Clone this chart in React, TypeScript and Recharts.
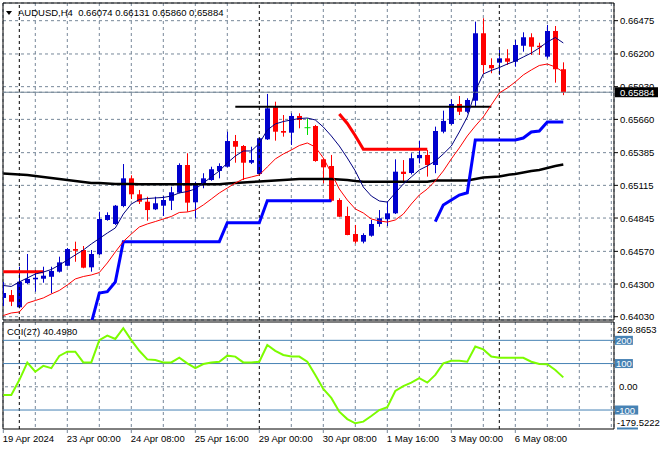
import {
  Bar,
  CartesianGrid,
  ComposedChart,
  Line,
  ReferenceArea,
  ReferenceLine,
  XAxis,
  YAxis,
} from "recharts";

// AUDUSD H4 candles, one entry per bar, oldest first
const symbol = "AUDUSD,H4";
const opens = [
  0.64185, 0.64209, 0.64108, 0.64308, 0.64339, 0.64344, 0.6436, 0.64402, 0.64451, 0.64589,
  0.64581, 0.64438, 0.64546, 0.64829, 0.64796, 0.64944, 0.65173, 0.65041, 0.6498, 0.64917,
  0.64947, 0.64988, 0.65054, 0.65283, 0.64975, 0.6512, 0.65159, 0.65234, 0.65269, 0.65481,
  0.6544, 0.65302, 0.65209, 0.65495, 0.6576, 0.65564, 0.6555, 0.65688, 0.65591, 0.65605,
  0.6533, 0.65275, 0.64994, 0.64862, 0.64713, 0.6465, 0.64699, 0.64796, 0.64835, 0.64884,
  0.65228, 0.65217, 0.65339, 0.65366, 0.65283, 0.65558, 0.65622, 0.65787, 0.65723, 0.65814,
  0.66371, 0.66109, 0.66128, 0.66164, 0.66136, 0.66268, 0.66338, 0.66268, 0.66178, 0.6639,
  0.66074,
];
const highs = [
  0.64317, 0.64251, 0.64443, 0.64548, 0.64416, 0.64443, 0.64443, 0.64526, 0.64598, 0.6465,
  0.64614, 0.64581, 0.64897, 0.64892, 0.64953, 0.65291, 0.65198, 0.65077, 0.65021, 0.65021,
  0.65027, 0.65104, 0.65297, 0.6538, 0.65145, 0.65215, 0.65269, 0.65297, 0.65558, 0.65531,
  0.65448, 0.65434, 0.65506, 0.6587, 0.65806, 0.65696, 0.6571, 0.6571, 0.65669, 0.65614,
  0.65339, 0.65366, 0.65008, 0.64939, 0.64788, 0.64719, 0.64829, 0.64911, 0.6498, 0.6533,
  0.65324, 0.6538, 0.65484, 0.65407, 0.656, 0.65732, 0.65826, 0.65853, 0.65834, 0.66467,
  0.66495, 0.66164, 0.66233, 0.66239, 0.66316, 0.66379, 0.66371, 0.66293, 0.6644, 0.66431,
  0.66131,
];
const lows = [
  0.64118, 0.64118, 0.64099, 0.643, 0.64237, 0.64311, 0.64223, 0.64395, 0.64446, 0.64484,
  0.6443, 0.64402, 0.6454, 0.64823, 0.64788, 0.64934, 0.65002, 0.64961, 0.64823, 0.64911,
  0.64862, 0.64911, 0.65049, 0.64897, 0.64843, 0.65091, 0.65153, 0.65173, 0.65264, 0.65302,
  0.65159, 0.65291, 0.65201, 0.6549, 0.65484, 0.65517, 0.65448, 0.65586, 0.65531, 0.6531,
  0.65132, 0.6498, 0.64854, 0.64703, 0.64636, 0.64636, 0.64691, 0.64773, 0.64779, 0.64878,
  0.65151, 0.65205, 0.65297, 0.65187, 0.65215, 0.65545, 0.65614, 0.65696, 0.6571, 0.6577,
  0.66035, 0.66041, 0.66027, 0.66109, 0.66095, 0.66219, 0.66192, 0.66192, 0.66164, 0.65963,
  0.6586,
];
const closes = [
  0.64226, 0.64154, 0.64319, 0.64342, 0.64352, 0.64369, 0.64408, 0.64479, 0.64589, 0.64575,
  0.64435, 0.64548, 0.64837, 0.6487, 0.64947, 0.65173, 0.65041, 0.6498, 0.64911, 0.64967,
  0.64994, 0.65058, 0.65283, 0.64972, 0.65126, 0.65173, 0.65248, 0.65275, 0.65481, 0.65434,
  0.65302, 0.65324, 0.65504, 0.65751, 0.65558, 0.6555, 0.65688, 0.65655, 0.65591, 0.65316,
  0.65264, 0.64988, 0.64856, 0.64705, 0.6465, 0.64705, 0.64796, 0.64843, 0.64884, 0.65228,
  0.65209, 0.65339, 0.65366, 0.65283, 0.65564, 0.65647, 0.65787, 0.65723, 0.6582, 0.66371,
  0.66109, 0.66082, 0.66164, 0.66136, 0.66274, 0.66338, 0.6626, 0.66255, 0.6639, 0.66074,
  0.65884,
];

// overlay indicators
const fastMa = [
  0.64288, 0.6428, 0.64317, 0.6435, 0.64383, 0.64399, 0.6442, 0.64457, 0.64498, 0.6454,
  0.64581, 0.64631, 0.64676, 0.64721, 0.64763, 0.64878, 0.64961, 0.64998, 0.65006, 0.65011,
  0.65015, 0.65027, 0.65052, 0.65064, 0.65085, 0.65134, 0.65184, 0.65234, 0.653, 0.65357,
  0.65399, 0.65399, 0.65461, 0.65572, 0.65622, 0.65642, 0.65655, 0.65667, 0.65671, 0.65655,
  0.65597, 0.65523, 0.6544, 0.65341, 0.65234, 0.65101, 0.65027, 0.64986, 0.64977, 0.65052,
  0.65126, 0.65184, 0.65242, 0.65275, 0.65316, 0.65374, 0.6544, 0.65556, 0.6568, 0.65894,
  0.66035, 0.66064, 0.66088, 0.66117, 0.66142, 0.66175, 0.66208, 0.6625, 0.66299, 0.66336,
  0.66291,
];
const slowMa = [
  0.6404, 0.64061, 0.64069, 0.64143, 0.64164, 0.64185, 0.64218, 0.64247, 0.64292, 0.64342,
  0.64362, 0.64375, 0.64395, 0.64474, 0.64565, 0.64651, 0.64713, 0.64771, 0.64796, 0.64816,
  0.64837, 0.64858, 0.64891, 0.64895, 0.64911, 0.64953, 0.65002, 0.65052, 0.65093, 0.65134,
  0.65168, 0.65184, 0.65201, 0.65267, 0.65333, 0.65374, 0.65407, 0.65444, 0.65465, 0.65432,
  0.65341, 0.65217, 0.65085, 0.64994, 0.6492, 0.64887, 0.64837, 0.64821, 0.64812, 0.64829,
  0.64878, 0.64961, 0.65035, 0.65085, 0.65151, 0.65234, 0.65333, 0.65424, 0.65523, 0.65605,
  0.6568, 0.65779, 0.65878, 0.65919, 0.65969, 0.66027, 0.66068, 0.66105, 0.66117, 0.66093,
  0.66051,
];
const longMa = [
  0.65213, 0.65209, 0.65205, 0.65201, 0.65192, 0.65184, 0.65176, 0.65168, 0.65159, 0.65151,
  0.65143, 0.65134, 0.65134, 0.6513, 0.65126, 0.65126, 0.65126, 0.65124, 0.65124, 0.65124,
  0.65124, 0.65124, 0.65124, 0.65124, 0.65124, 0.65124, 0.65124, 0.65124, 0.6513, 0.65134,
  0.65139, 0.65143, 0.65147, 0.65151, 0.65155, 0.65159, 0.65163, 0.65168, 0.65168, 0.65168,
  0.65168, 0.65168, 0.65163, 0.65159, 0.65151, 0.65145, 0.65145, 0.65145, 0.65145, 0.65145,
  0.65145, 0.65145, 0.65145, 0.65145, 0.65155, 0.65155, 0.65155, 0.65155, 0.65155, 0.65168,
  0.6518, 0.65184, 0.65188, 0.65201, 0.65209, 0.65221, 0.65234, 0.65242, 0.65258, 0.65275,
  0.65287,
];
// trailing stop: blue under price, red over price, gaps where the other side is active
const stopUp = [
  null, null, null, null, null, null, null, null, null, null,
  null, 0.63978, 0.64226, 0.64237, 0.64317, 0.6465, 0.6465, 0.6465, 0.6465, 0.6465,
  0.6465, 0.6465, 0.6465, 0.6465, 0.6465, 0.6465, 0.6465, 0.6465, 0.64807, 0.64807,
  0.64807, 0.64807, 0.64807, 0.64988, 0.64988, 0.64988, 0.64988, 0.64988, 0.64988, 0.64988,
  0.64988, 0.64988, null, null, null, null, null, null, null, null,
  null, null, null, null, 0.64815, 0.64953, 0.64994, 0.65035, 0.65054, 0.6549,
  0.6549, 0.6549, 0.6549, 0.6549, 0.6549, 0.65506, 0.65556, 0.65564, 0.65638, 0.65638,
  0.65638,
];
const stopDown = [
  0.64402, 0.64402, 0.64402, 0.64402, 0.64402, 0.64402, null, null, null, null,
  null, null, null, null, null, null, null, null, null, null,
  null, null, null, null, null, null, null, null, null, null,
  null, null, null, null, null, null, null, null, null, null,
  null, null, 0.65704, 0.65626, 0.65525, 0.65413, 0.65413, 0.65413, 0.65413, 0.65413,
  0.65413, 0.65413, 0.65413, 0.65413, null, null, null, null, null, null,
  null, null, null, null, null, null, null, null, null, null,
  null,
];
const resistanceLevel = 0.65765;
const resistanceFrom = 29;
const resistanceTo = 61;

// CCI(27) sub-window
const cciValues = [
  -35, -35, 29, 104, 65, 90, 80, 133, 151, 151,
  105, 105, 201, 220, 206, 252, 201, 155, 118, 115,
  105, 105, 125, 101, 80, 98, 105, 108, 134, 130,
  105, 105, 108, 180, 155, 137, 130, 130, 108, 51,
  -9, -48, -107, -139, -157, -150, -126, -100, -88, -18,
  3, 18, 37, 18, 51, 101, 112, 112, 108, 173,
  161, 130, 125, 125, 125, 125, 108, 98, 97, 72,
  40.498,
];
const cciLevels = [200, 100, -100];
const cciTicks = [269.8653, 200, 100, 0, -100, -179.5222];

// axes
const priceTicks = [0.66475, 0.662, 0.6593, 0.6566, 0.65385, 0.65115, 0.64845, 0.6457, 0.643, 0.6403];
const gridBars = [4, 8, 12, 16, 20, 24, 28, 36, 40, 44, 48, 52, 56, 60, 64, 68, 72, 76];
const weekStarts = [2, 32, 62];
const timeTickBars = [0, 8, 16, 24, 32, 40, 48, 56, 64];
const timeTickLabels = [
  "19 Apr 2024", "23 Apr 00:00", "24 Apr 08:00", "25 Apr 16:00", "29 Apr 00:00",
  "30 Apr 08:00", "1 May 16:00", "3 May 00:00", "6 May 08:00",
];

const xDomain: [number, number] = [-0.0375, 76.3375];
const priceDomain: [number, number] = [0.64003, 0.66621];
const cciDomain: [number, number] = [-181.7, 278.9];

const FONT = "'Liberation Sans', Arial, sans-serif";
const FS = 9.5;
const GRID = "#778899";
const BULL = "#0000CD";
const BEAR = "#FF0000";
const DOJI = "#00DD00";
const LEVEL = "#4682B4";

// CCI pane geometry (inside its own svg)
const CCI_H = 130;
const CCI_TOP = 2;
const TIME_AXIS_H = 21;
const CCI_BOTTOM = CCI_H - TIME_AXIS_H;

const last = opens.length - 1;
const lastClose = closes[last];

const rows = opens.map((open, i) => ({
  i,
  open,
  high: highs[i],
  low: lows[i],
  close: closes[i],
  range: [lows[i], highs[i]],
  fast: fastMa[i],
  slow: slowMa[i],
  trend: longMa[i],
  up: stopUp[i],
  down: stopDown[i],
  cci: cciValues[i],
}));

function Candle(props: any) {
  const { x, y, width, height, payload } = props;
  if (x == null || y == null) return null;
  const cx = Math.floor(x + width / 2) + 0.5;
  const top = Math.min(y, y + height);
  const bottom = Math.max(y, y + height);
  const span = payload.high - payload.low || 1e-9;
  const py = (v: number) => top + ((payload.high - v) / span) * (bottom - top);
  const color =
    payload.close > payload.open ? BULL : payload.close < payload.open ? BEAR : DOJI;
  const bodyTop = py(Math.max(payload.open, payload.close));
  const bodyBottom = py(Math.min(payload.open, payload.close));
  return (
    <g>
      <line x1={cx} x2={cx} y1={top} y2={bottom} stroke={color} strokeWidth={1} />
      {payload.close === payload.open ? (
        <line x1={cx - 3} x2={cx + 3} y1={bodyTop} y2={bodyTop} stroke={color} />
      ) : (
        <rect
          x={cx - 2.5}
          y={bodyTop}
          width={5}
          height={Math.max(1, bodyBottom - bodyTop)}
          fill={color}
        />
      )}
    </g>
  );
}

function PriceTick(props: any) {
  const { x, y, payload } = props;
  const v = payload.value as number;
  if (v === lastClose) {
    return (
      <g>
        <rect x={x + 1} y={y - 5} width={43} height={10} fill="#000" />
        <text x={x + 6} y={y + 3.5} fill="#fff" fontSize={FS} fontFamily={FONT}>
          {v.toFixed(5)}
        </text>
      </g>
    );
  }
  return (
    <g>
      <line x1={x} x2={x + 4} y1={y} y2={y} stroke="#000" />
      <text x={x + 6} y={y + 3.5} fill="#000" fontSize={FS} fontFamily={FONT}>
        {v.toFixed(5)}
      </text>
    </g>
  );
}

function CciTick(props: any) {
  const { x, y, payload } = props;
  const v = payload.value as number;
  if (cciLevels.includes(v)) {
    const label = String(v);
    return (
      <g>
        <rect x={x + 1} y={y - 4.5} width={label.length * 5.3 + 2} height={9} fill={LEVEL} />
        <text x={x + 2} y={y + 3.5} fill="#fff" fontSize={FS} fontFamily={FONT}>
          {label}
        </text>
      </g>
    );
  }
  if (v === 0) {
    return (
      <text x={x + 5} y={y + 3.5} fill="#000" fontSize={FS} fontFamily={FONT}>
        0.00
      </text>
    );
  }
  // window max / min labels sit inside the pane edges
  if (v > 0) {
    return (
      <text x={x + 3} y={y + 8.5} fill="#000" fontSize={FS} fontFamily={FONT}>
        {v.toFixed(4)}
      </text>
    );
  }
  return (
    <g>
      <rect x={x + 3} y={y - 1} width={21} height={2} fill={LEVEL} />
      <text x={x + 3} y={y - 2.5} fill="#000" fontSize={FS} fontFamily={FONT}>
        {v.toFixed(4)}
      </text>
    </g>
  );
}

// labels hang just under the CCI pane; short tick marks mark the bar
function TimeTick(props: any) {
  const { x, payload } = props;
  const idx = timeTickBars.indexOf(payload.value);
  return (
    <g>
      <line x1={x} x2={x} y1={CCI_BOTTOM} y2={CCI_BOTTOM + 4} stroke={GRID} />
      <text x={x - 0.5} y={CCI_BOTTOM + 13} fill="#000" fontSize={FS} fontFamily={FONT}>
        {timeTickLabels[idx]}
      </text>
    </g>
  );
}

export default function App() {
  const header = [opens[last], highs[last], lows[last], closes[last]]
    .map((v) => v.toFixed(5))
    .join(" ");

  return (
    <div
      style={{
        position: "absolute",
        left: 0,
        top: 0,
        width: 660,
        height: 450,
        background: "#fff",
        fontFamily: FONT,
        overflow: "hidden",
      }}
    >
      <div style={{ position: "absolute", left: 0, top: 0 }}>
        <ComposedChart
          width={660}
          height={321}
          data={rows}
          margin={{ top: 3, right: 0, bottom: 1, left: 3 }}
        >
          <CartesianGrid stroke={GRID} strokeDasharray="3 3" />
          <XAxis
            dataKey="i"
            type="number"
            domain={xDomain}
            ticks={gridBars}
            interval={0}
            allowDataOverflow
            hide
          />
          <YAxis
            orientation="right"
            width={46}
            domain={priceDomain}
            ticks={[...priceTicks, lastClose]}
            interval={0}
            allowDataOverflow
            axisLine={false}
            tickLine={false}
            tickSize={0}
            tickMargin={0}
            tick={(p: any) => <PriceTick {...p} />}
          />
          {weekStarts.map((w) => (
            <ReferenceLine key={w} x={w} stroke="#000" strokeDasharray="3 3" />
          ))}
          <ReferenceLine y={lastClose} stroke={GRID} />
          <Bar
            dataKey="range"
            barSize={6}
            isAnimationActive={false}
            shape={(p: any) => <Candle {...p} />}
          />
          <ReferenceLine
            segment={[
              { x: resistanceFrom, y: resistanceLevel },
              { x: resistanceTo, y: resistanceLevel },
            ]}
            stroke="#000"
            strokeWidth={2}
          />
          <Line type="linear" dataKey="trend" stroke="#000" strokeWidth={2.5} dot={false} isAnimationActive={false} />
          <Line type="linear" dataKey="up" stroke="#0000FF" strokeWidth={3} dot={false} isAnimationActive={false} />
          <Line type="linear" dataKey="down" stroke="#FF0000" strokeWidth={3} dot={false} isAnimationActive={false} />
          <Line type="linear" dataKey="slow" stroke="#FF0000" strokeWidth={1} dot={false} isAnimationActive={false} />
          <Line type="linear" dataKey="fast" stroke="#000080" strokeWidth={1} dot={false} isAnimationActive={false} />
          <ReferenceArea
            x1={xDomain[0]}
            x2={xDomain[1]}
            y1={priceDomain[0]}
            y2={priceDomain[1]}
            fill="none"
            stroke="#000"
            fillOpacity={0}
          />
        </ComposedChart>
      </div>

      <div style={{ position: "absolute", left: 0, top: 320 }}>
        <ComposedChart
          width={660}
          height={CCI_H}
          data={rows}
          margin={{ top: CCI_TOP, right: 0, bottom: 0, left: 3 }}
        >
          <CartesianGrid stroke={GRID} strokeDasharray="3 3" horizontal={false} />
          <XAxis
            dataKey="i"
            type="number"
            domain={xDomain}
            ticks={gridBars}
            interval={0}
            allowDataOverflow
            hide
          />
          <XAxis
            xAxisId="time"
            dataKey="i"
            type="number"
            domain={xDomain}
            ticks={timeTickBars}
            interval={0}
            allowDataOverflow
            height={TIME_AXIS_H}
            axisLine={false}
            tickLine={false}
            tick={(p: any) => <TimeTick {...p} />}
          />
          <YAxis
            orientation="right"
            width={46}
            domain={cciDomain}
            ticks={cciTicks}
            interval={0}
            allowDataOverflow
            axisLine={false}
            tickLine={false}
            tickSize={0}
            tickMargin={0}
            tick={(p: any) => <CciTick {...p} />}
          />
          {weekStarts.map((w) => (
            <ReferenceLine key={w} x={w} stroke="#000" strokeDasharray="3 3" />
          ))}
          <ReferenceLine y={0} stroke={GRID} strokeDasharray="3 3" />
          {cciLevels.map((l) => (
            <ReferenceLine key={l} y={l} stroke={LEVEL} />
          ))}
          <Line type="linear" dataKey="cci" stroke="#7CFC00" strokeWidth={2} dot={false} isAnimationActive={false} />
          <ReferenceArea
            x1={xDomain[0]}
            x2={xDomain[1]}
            y1={cciDomain[0]}
            y2={cciDomain[1]}
            fill="none"
            stroke="#000"
            fillOpacity={0}
          />
        </ComposedChart>
      </div>

      <div
        style={{
          position: "absolute",
          left: 6,
          top: 7,
          fontSize: FS,
          lineHeight: "11px",
          color: "#000",
          whiteSpace: "pre",
          display: "flex",
          alignItems: "center",
        }}
      >
        <svg width={6} height={4} style={{ marginRight: 6 }}>
          <polygon points="0,0 6,0 3,4" fill="#000" />
        </svg>
        <span>{`${symbol}  ${header}`}</span>
      </div>
      <div
        style={{
          position: "absolute",
          left: 7,
          top: 326,
          fontSize: FS,
          lineHeight: "11px",
          color: "#000",
          whiteSpace: "pre",
        }}
      >
        {`CCI(27) ${cciValues[last].toFixed(4)}`}
      </div>
    </div>
  );
}
